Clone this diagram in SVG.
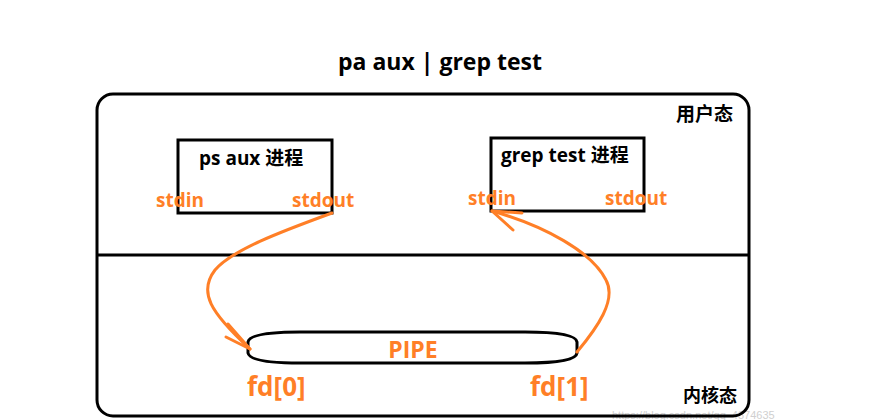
<svg xmlns="http://www.w3.org/2000/svg" width="873" height="420" viewBox="0 0 873 420">
<defs>
<style>
.blk{fill:#000;font-family:"Open Sans","Noto Sans CJK SC",sans-serif;font-weight:bold}
.org{fill:#FF7F27;font-family:"Open Sans","Noto Sans CJK SC",sans-serif;font-weight:bold}
.box{fill:#fff;stroke:#000;stroke-width:3}
.wire{fill:none;stroke:#FF7F27;stroke-width:3;stroke-linecap:round;stroke-linejoin:round}
</style>
</defs>
<rect width="873" height="420" fill="#fff"/>
<text x="612" y="419" font-size="11" fill="#d0d0d0" font-family="Liberation Sans,sans-serif">https://blog.csdn.net/qq_4374635</text>
<text class="blk" x="440" y="70" font-size="23" text-anchor="middle">pa aux | grep test</text>
<g id="outer">
<rect x="97" y="94" width="652" height="322" rx="16" fill="none" stroke="#000" stroke-width="3"/>
<line x1="97" y1="255" x2="749" y2="255" stroke="#000" stroke-width="3"/>
<text class="blk" x="733" y="121" font-size="19" text-anchor="end">用户态</text>
<text class="blk" x="737" y="402" font-size="18" text-anchor="end">内核态</text>
</g>
<g id="ps-aux">
<rect class="box" x="178" y="140" width="154" height="73"/>
<text class="blk" x="199" y="165" font-size="19">ps aux 进程</text>
<text class="org" x="156" y="207" font-size="19">stdin</text>
<text class="org" x="292" y="207" font-size="19">stdout</text>
</g>
<g id="grep-test">
<rect class="box" x="491" y="138" width="153" height="73"/>
<text class="blk" x="501" y="162" font-size="19">grep test 进程</text>
<text class="org" x="468" y="205" font-size="19">stdin</text>
<text class="org" x="605" y="205" font-size="19">stdout</text>
</g>
<g id="pipe">
<path d="M248,342 Q250,332 300,332 L525,332 Q576,332 577,342 L577,353 Q576,363 525,363 L300,363 Q250,363 248,353 Z" fill="#fff" stroke="#000" stroke-width="3"/>
<text class="org" x="413" y="358" font-size="23" text-anchor="middle">PIPE</text>
<text class="org" x="247" y="396" font-size="26">fd[0]</text>
<text class="org" x="530" y="396" font-size="26">fd[1]</text>
</g>
<g id="connectors">
<path class="wire" d="M332,213 C280,232 232,250 215,270 C198,292 210,312 250,349"/>
<path class="wire" d="M228,324 L250,349 L226,337"/>
<path class="wire" d="M577,352 C597,328 617,300 606,280 C592,252 545,226 492,211"/>
<path class="wire" d="M522,213 L492,211 L513,230"/>
</g>
</svg>
